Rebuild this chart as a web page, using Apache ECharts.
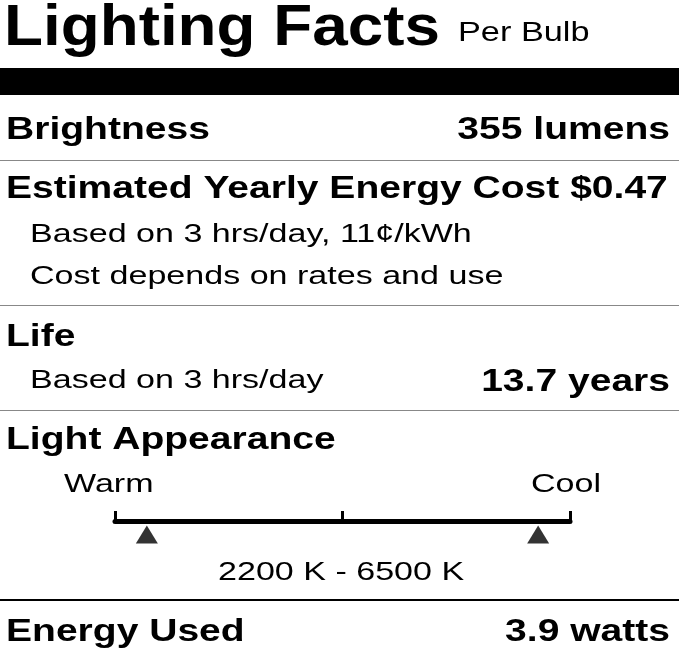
<!DOCTYPE html>
<html>
<head>
<meta charset="utf-8">
<script src="https://cdn.jsdelivr.net/npm/echarts@6/dist/echarts.min.js"></script>
<style>html,body{margin:0;padding:0;background:#fff}#chart{width:679px;height:658px}</style>
</head>
<body>
<div id="chart"></div>
<script>
// scale data (kelvin)
const scaleRange = [1850, 6850];
const scaleTicks = [1850, 4350, 6850];
const markers = [2200, 6500];
const rows = [
  ['Brightness', '355 lumens'],
  ['Estimated Yearly Energy Cost', '$0.47'],
  ['Life', ''],
  ['Light Appearance', ''],
  ['Energy Used', '3.9 watts']
];

const F = '"Liberation Sans", Arial, sans-serif';
const txt = (x, y, t, font, sx, align) => ({
  type: 'text', x: x, y: y, scaleX: sx,
  style: { text: t, font: font, fill: '#000', textAlign: align || 'left', textVerticalAlign: 'top' }
});
const bold = (x, y, t, align) => txt(x, y, t, 'bold 32px ' + F, 1.22, align);
const reg = (x, y, t) => txt(x, y, t, '26px ' + F, 1.31);
const hline = (y, w, c) => ({ type: 'rect', shape: { x: 0, y: y, width: 679, height: w }, style: { fill: c } });

const chart = echarts.init(document.getElementById('chart'));
chart.setOption({
  animation: false,
  grid: { left: 115, right: 109, top: 521, height: 32 },
  xAxis: {
    type: 'value', position: 'top', min: scaleRange[0], max: scaleRange[1],
    axisLine: { show: true, lineStyle: { color: '#000', width: 5 } },
    axisTick: { show: true, customValues: scaleTicks, length: 10, lineStyle: { color: '#000', width: 3 } },
    axisLabel: { show: false }, splitLine: { show: false }
  },
  yAxis: { type: 'value', min: -1, max: 0, show: false },
  series: [{
    type: 'scatter', symbol: 'triangle', symbolSize: [22, 18], itemStyle: { color: '#000' },
    data: markers.map(k => [k, -0.42])
  }],
  graphic: [
    txt(4, 0, 'Lighting Facts', 'bold 58px ' + F, 1.1),
    txt(458, 20, 'Per Bulb', '27px ' + F, 1.27),
    hline(68, 27, '#000'),
    bold(6, 114, rows[0][0]), bold(670, 114, rows[0][1], 'right'),
    hline(160, 1, '#888'),
    bold(6, 173, rows[1][0] + ' ' + rows[1][1]),
    reg(30, 222, 'Based on 3 hrs/day, 11¢/kWh'),
    reg(30, 264, 'Cost depends on rates and use'),
    hline(305, 1, '#888'),
    bold(6, 321, rows[2][0]),
    reg(30, 368, 'Based on 3 hrs/day'),
    bold(670, 366, '13.7 years', 'right'),
    hline(410, 1, '#888'),
    bold(6, 424, rows[3][0]),
    reg(64, 472, 'Warm'), reg(531, 472, 'Cool'),
    reg(218, 560, '2200 K - 6500 K'),
    hline(599, 2, '#000'),
    bold(6, 616, rows[4][0]), bold(670, 616, rows[4][1], 'right')
  ]
});
</script>
</body>
</html>
